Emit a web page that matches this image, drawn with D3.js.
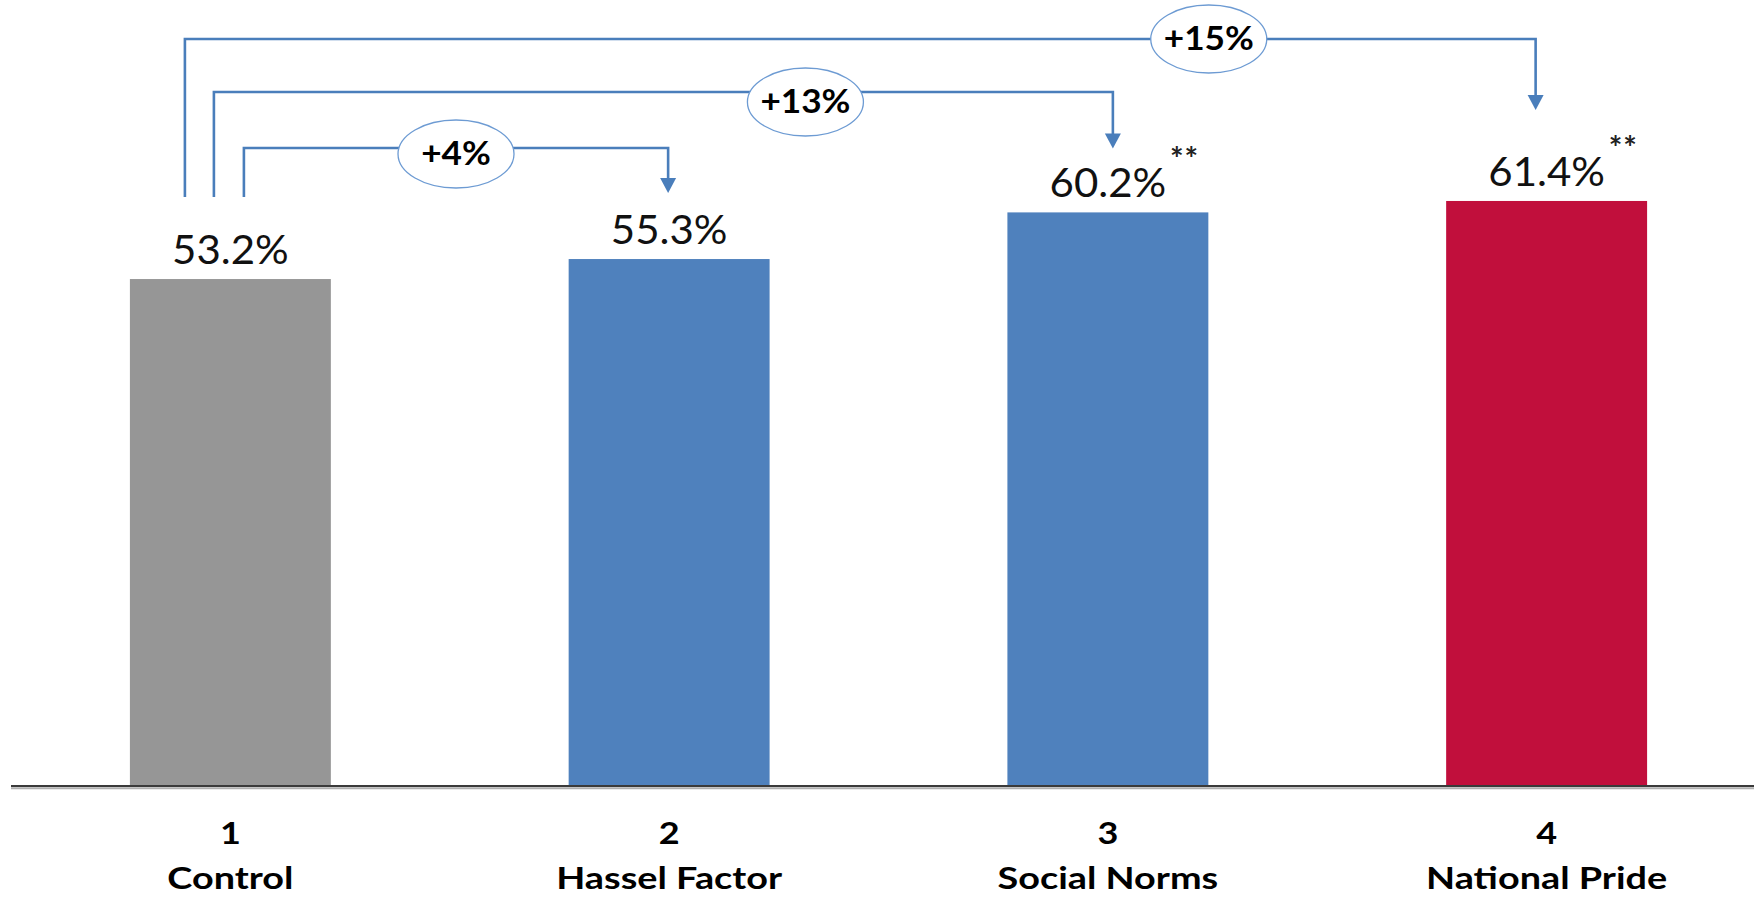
<!DOCTYPE html>
<html>
<head>
<meta charset="utf-8">
<script src="https://cdn.jsdelivr.net/npm/d3@7"></script>
<style>
  html, body { margin: 0; padding: 0; background: #ffffff; }
  svg { display: block; }
</style>
</head>
<body>
<svg id="chart" width="1754" height="897"></svg>
<script>
// ---- data ----
const categoryNumbers = ["1", "2", "3", "4"];
const categoryNames = ["Control", "Hassel Factor", "Social Norms", "National Pride"];
const values = [53.2, 55.3, 60.2, 61.4];
const significance = ["", "", "**", "**"];
const barColors = ["#969696", "#4f81bd", "#4f81bd", "#c10f3c"];
const comparisonTargets = ["2", "3", "4"];
const comparisonLabels = ["+4%", "+13%", "+15%"];

// ---- layout ----
const W = 1754, H = 897;
const baseY = 785.5;
const svg = d3.select("#chart");

const x = d3.scaleBand()
  .domain(categoryNumbers)
  .range([11, 1766])
  .paddingInner(0.542)
  .paddingOuter(0.271);

const y = d3.scaleLinear()
  .domain([0, 70])
  .range([baseY, baseY - 70 * 9.52]);

const fmt = d => d3.format(".1f")(d) + "%";

// bars
svg.append("g").selectAll("rect")
  .data(values)
  .join("rect")
  .attr("x", (d, i) => x(categoryNumbers[i]))
  .attr("y", d => y(d))
  .attr("width", x.bandwidth())
  .attr("height", d => y(0) - y(d))
  .attr("fill", (d, i) => barColors[i]);

// axis baseline (with soft shadow)
svg.append("line")
  .attr("x1", 11).attr("x2", W)
  .attr("y1", baseY + 2.8).attr("y2", baseY + 2.8)
  .attr("stroke", "#b0b0b0").attr("stroke-width", 2);
svg.append("line")
  .attr("x1", 11).attr("x2", W)
  .attr("y1", baseY + 0.5).attr("y2", baseY + 0.5)
  .attr("stroke", "#3a3a3a").attr("stroke-width", 2.2);

// category axis labels
const catG = svg.append("g")
  .attr("font-family", "Lato, 'Open Sans', sans-serif")
  .attr("font-weight", "bold")
  .attr("fill", "#000");
categoryNumbers.forEach((c, i) => {
  const cx = x(c) + x.bandwidth() / 2;
  catG.append("text")
    .attr("transform", `translate(${cx},844) scale(1.2,1)`)
    .attr("text-anchor", "middle")
    .attr("font-size", 30)
    .text(c);
  catG.append("text")
    .attr("transform", `translate(${cx},889) scale(1.22,1)`)
    .attr("text-anchor", "middle")
    .attr("font-size", 31)
    .text(categoryNames[i]);
});

// value labels
const valG = svg.append("g")
  .attr("font-family", "Lato, 'Open Sans', sans-serif")
  .attr("fill", "#111");
values.forEach((v, i) => {
  const cx = x(categoryNumbers[i]) + x.bandwidth() / 2;
  valG.append("text")
    .attr("transform", `translate(${cx},${y(v) - 15}) scale(1.05,1)`)
    .attr("text-anchor", "middle")
    .attr("font-size", 40)
    .text(fmt(v));
  if (significance[i]) {
    valG.append("text")
      .attr("x", cx + 62)
      .attr("y", y(v) - 41)
      .attr("font-size", 32)
      .attr("font-weight", "bold")
      .attr("letter-spacing", 1)
      .attr("fill", "#222")
      .text(significance[i]);
  }
});

// comparison brackets
const lineColor = "#4a7ebb";
const levels = [148, 92, 39];
const leftOffsets = [114, 84, 55];
const bubbleFrac = [0.5, 0.658, 0.758];
const bubbleDy = [6, 10, 0];
const startBottom = 197;
const tipLen = 15, tipHalf = 8;
const x0 = x(categoryNumbers[0]);
const compG = svg.append("g");

comparisonTargets.forEach((t, i) => {
  const target = categoryNumbers.indexOf(t);
  const xl = x0 + leftOffsets[i];
  const xr = x(t) + x.bandwidth() / 2 - (i === 2 ? 11 : (i === 1 ? -5 : 1));
  const ly = levels[i];
  const tipY = y(values[target]) - (i === 0 ? 66 : (i === 1 ? 64 : 91));
  compG.append("path")
    .attr("d", `M${xl},${startBottom} V${ly} H${xr} V${tipY - tipLen + 1}`)
    .attr("fill", "none")
    .attr("stroke", lineColor)
    .attr("stroke-width", 2.6);
  compG.append("path")
    .attr("d", `M${xr - tipHalf},${tipY - tipLen} L${xr + tipHalf},${tipY - tipLen} L${xr},${tipY} Z`)
    .attr("fill", lineColor);

  const bx = xl + (xr - xl) * bubbleFrac[i];
  const by = ly + bubbleDy[i];
  compG.append("ellipse")
    .attr("cx", bx).attr("cy", by)
    .attr("rx", 58).attr("ry", 34)
    .attr("fill", "#fff")
    .attr("stroke", "#6d9bd3")
    .attr("stroke-width", 1.3);
  compG.append("text")
    .attr("transform", `translate(${bx},${by + 11}) scale(1.1,1)`)
    .attr("text-anchor", "middle")
    .attr("font-family", "Lato, 'Open Sans', sans-serif")
    .attr("font-weight", "bold")
    .attr("font-size", 32)
    .attr("fill", "#000")
    .text(comparisonLabels[i]);
});
</script>
</body>
</html>
